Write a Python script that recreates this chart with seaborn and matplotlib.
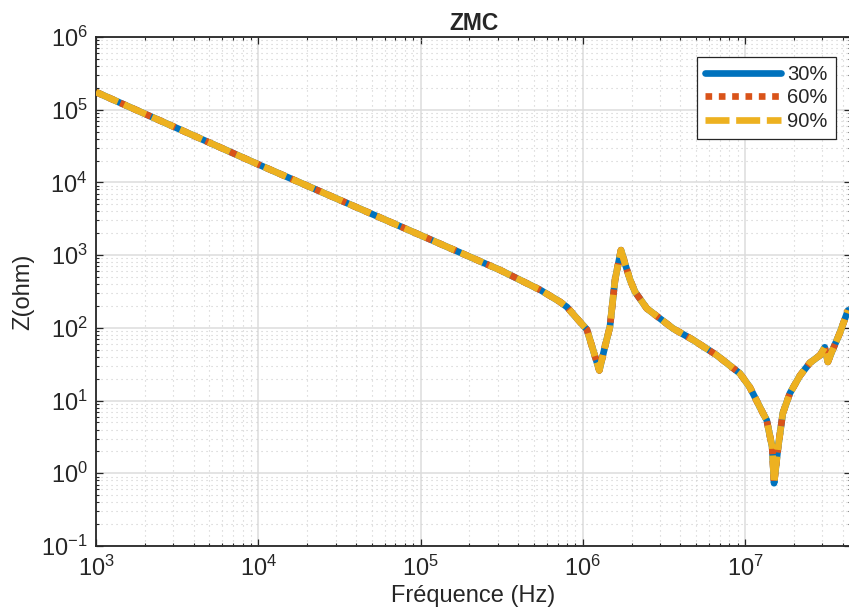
import matplotlib
matplotlib.use("Agg")
import matplotlib.pyplot as plt
from matplotlib.ticker import LogLocator, NullFormatter
import numpy as np
import pandas as pd
import seaborn as sns

# ---- data ----
freq_hz = [1e3, 1e4, 1e5, 3.1e5, 5.5e5, 7.24e5, 8.0e5, 9.6e5, 1.06e6, 1.16e6, 1.265e6, 1.37e6,
           1.47e6, 1.58e6, 1.72e6, 1.82e6, 1.96e6, 2.1e6, 2.48e6, 3.6e6, 4.8e6, 6.7e6,
           9.3e6, 1.07e7, 1.29e7, 1.36e7, 1.47e7, 1.51e7, 1.60e7, 1.71e7, 1.89e7, 2.18e7,
           2.51e7, 2.90e7, 3.1e7, 3.24e7, 3.43e7, 3.84e7, 4.31e7]
z_30 = [1.75e5, 1.77e4, 1880, 622, 330, 228, 193, 121, 95, 49, 26, 55,
        103, 453, 1172, 769, 453, 313, 185, 98, 68, 42,
        23.6, 15.3, 6.7, 5.4, 2.3, 0.73, 2.3, 6.7, 12.6, 22,
        33, 42, 54, 34, 47, 85, 174]
z_60 = list(z_30)
z_90 = list(z_30)
series_labels = ["30%", "60%", "90%"]
series_colors = ["#0072BD", "#D95319", "#EDB120"]
title_text = "ZMC"
x_label = "Fréquence (Hz)"
y_label = "Z(ohm)"

sns.set_style("ticks")
plt.rcParams["font.family"] = ["Liberation Sans", "DejaVu Sans"]
plt.rcParams["mathtext.fontset"] = "custom"
plt.rcParams["mathtext.rm"] = "Liberation Sans"
plt.rcParams["mathtext.default"] = "regular"

fig = plt.figure(figsize=(8.49, 6.12), dpi=100)
ax = fig.add_axes([96 / 849, 1 - 546 / 612, (851 - 96) / 849, (546 - 37) / 612])
ax.set_xscale("log")
ax.set_yscale("log")

styles = ["-", (0, (1, 1)), (0, (3.6, 1.0))]
for lab, vals, col, ls, zo in zip(series_labels, [z_30, z_60, z_90], series_colors, styles, [2, 3, 4]):
    df = pd.DataFrame({"f": freq_hz, "z": vals})
    sns.lineplot(data=df, x="f", y="z", ax=ax, color=col, linestyle=ls, lw=4.8,
                 label=lab, sort=False, estimator=None, zorder=zo,
                 solid_joinstyle="round", dash_joinstyle="round")

ax.set_xlim(1e3, 4.5e7)
ax.set_ylim(1e-1, 1e6)
ax.xaxis.set_major_locator(LogLocator(base=10, numticks=20))
ax.yaxis.set_major_locator(LogLocator(base=10, numticks=20))
ax.xaxis.set_minor_locator(LogLocator(base=10, subs=np.arange(2, 10), numticks=100))
ax.yaxis.set_minor_locator(LogLocator(base=10, subs=np.arange(2, 10), numticks=100))
ax.xaxis.set_minor_formatter(NullFormatter())
ax.yaxis.set_minor_formatter(NullFormatter())

ax.set_axisbelow(True)
ax.grid(True, which="major", color="#dcdcdc", lw=1.1, ls="-")
ax.grid(True, which="minor", color="#cdcdcd", lw=0.8, ls=(0, (1, 3.5)))

for s in ax.spines.values():
    s.set_color("#262626")
    s.set_linewidth(1.3)
ax.tick_params(which="both", direction="in", top=True, right=True, colors="#262626")
ax.tick_params(which="major", length=5, width=0.9, labelsize=17)
ax.tick_params(which="minor", length=2.5, width=0.8)
ax.tick_params(axis="x", which="major", pad=7)
ax.tick_params(axis="y", which="major", pad=6)

ax.set_title(title_text, fontsize=16.5, fontweight="bold", pad=5)
ax.set_xlabel(x_label, fontsize=17, labelpad=3)
ax.set_ylabel(y_label, fontsize=17, labelpad=5)

leg = ax.legend(loc="upper right", bbox_to_anchor=(0.980, 0.961), fontsize=14.5,
                handlelength=3.8, handletextpad=0.3, labelspacing=0.22, borderpad=0.4,
                borderaxespad=0.0, fancybox=False, framealpha=1, edgecolor="#262626")
leg.get_frame().set_linewidth(0.9)

fig.savefig("out.png", dpi=100)
